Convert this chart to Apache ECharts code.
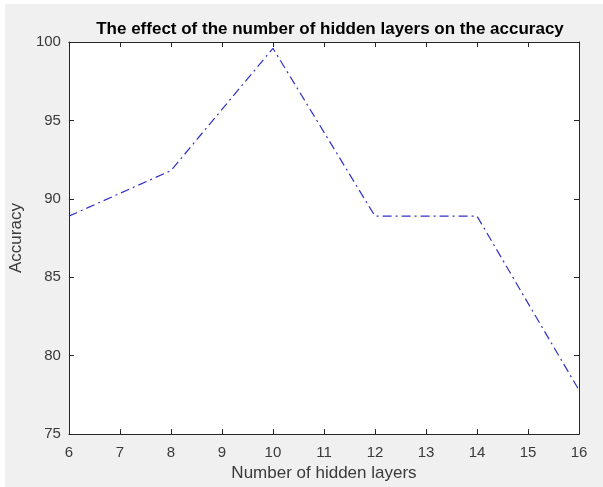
<!DOCTYPE html>
<html>
<head>
<meta charset="utf-8">
<script src="https://cdn.jsdelivr.net/npm/echarts@6/dist/echarts.min.js"></script>
<style>html,body{margin:0;padding:0;background:#fff;}#c{width:603px;height:487px;}</style>
</head>
<body>
<div id="c"></div>
<script>
var layers = [6, 8, 10, 12, 14, 16];
var accuracy = [88.9, 91.8, 99.6, 88.9, 88.9, 77.8];
var titleText = 'The effect of the number of hidden layers on the accuracy';
var xName = 'Number of hidden layers';
var yName = 'Accuracy';

var chart = echarts.init(document.getElementById('c'), null, {renderer: 'canvas'});
var axisColor = '#262626';
var labelColor = '#3a3a3a';
var font = 'Liberation Sans, Arial, Helvetica, sans-serif';
function baseAxis(extra) {
  return Object.assign({
    axisLine: {show: true, onZero: false, lineStyle: {color: axisColor, width: 1}},
    axisTick: {show: true, inside: true, length: 5, lineStyle: {color: axisColor}},
    splitLine: {show: false}
  }, extra);
}
chart.setOption({
  backgroundColor: '#ffffff',
  animation: false,
  graphic: [{
    type: 'rect', z: -10, silent: true,
    shape: {x: 5, y: 4, width: 603, height: 487},
    style: {fill: '#f0f0f0'}
  }],
  title: {
    text: titleText, left: 325, textAlign: 'center', top: 16,
    textStyle: {fontFamily: font, fontSize: 17, fontWeight: 'bold', color: '#000'}
  },
  grid: {left: 68, right: 24, top: 42, bottom: 50, show: true, backgroundColor: '#ffffff', borderWidth: 0},
  xAxis: [
    baseAxis({type: 'value', min: 6, max: 16, interval: 1, position: 'bottom',
      name: xName, nameLocation: 'middle', nameGap: 29,
      nameTextStyle: {fontFamily: font, fontSize: 17, color: labelColor},
      axisLabel: {fontFamily: font, fontSize: 15, color: labelColor, margin: 11}}),
    baseAxis({type: 'value', min: 6, max: 16, interval: 1, position: 'top', axisLabel: {show: false}})
  ],
  yAxis: [
    baseAxis({type: 'value', min: 75, max: 100, interval: 5, position: 'left',
      name: yName, nameLocation: 'middle', nameGap: 35,
      nameTextStyle: {fontFamily: font, fontSize: 17, color: labelColor},
      axisLabel: {fontFamily: font, fontSize: 15, color: labelColor, margin: 8}}),
    baseAxis({type: 'value', min: 75, max: 100, interval: 5, position: 'right', axisLabel: {show: false}})
  ],
  series: [{
    type: 'line',
    data: layers.map(function (x, i) { return [x, accuracy[i]]; }),
    showSymbol: false,
    symbol: 'none',
    lineStyle: {color: '#3030c8', width: 1.2, type: [9, 4, 2, 4]},
    clip: false
  }]
});
</script>
</body>
</html>
